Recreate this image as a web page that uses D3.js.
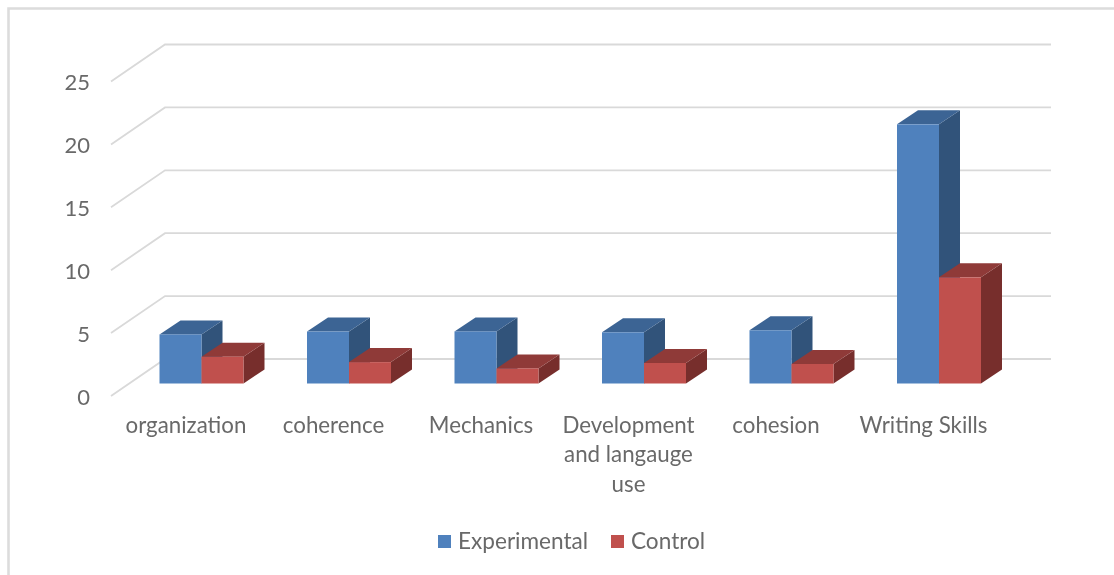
<!DOCTYPE html>
<html>
<head>
<meta charset="utf-8">
<script src="https://cdn.jsdelivr.net/npm/d3@7/dist/d3.min.js"></script>
<style>
html,body{margin:0;padding:0;background:#fff;overflow:hidden}
svg{display:block;filter:blur(0.45px)}
text{font-family:Lato,"Open Sans",sans-serif;fill:#696969}
</style>
</head>
<body>
<svg id="c" width="1114" height="575"></svg>
<script>
const categories = ["organization","coherence","Mechanics","Development and langauge use","cohesion","Writing Skills"];
const seriesNames = ["Experimental","Control"];
const experimental = [3.9,4.13,4.14,4.07,4.23,20.6];
const control = [2.13,1.7,1.2,1.63,1.55,8.44];
const yTicks = [0,5,10,15,20,25];
const colors = {
  Experimental:{front:"#4f81bd",top:"#3c6494",side:"#31537a"},
  Control:{front:"#c0504d",top:"#8f3a38",side:"#772e2c"}
};

const svg = d3.select("#c");
const depthX = 54, depthY = 37;       // wall depth of the 3D floor
const barDX = 21, barDY = 14;         // bar depth
const baseLift = 12.5;                // bars stand this far up the floor

const y = d3.scaleLinear().domain([0,25]).range([396,81.5]);
const x = d3.scaleBand().domain(categories).range([127.75,1012.75]).paddingInner(0).paddingOuter(0);
const inner = d3.scaleBand().domain(seriesNames).range([x.bandwidth()/2-42, x.bandwidth()/2+42]);

// chart frame
svg.append("path").attr("d","M8.5,575V8.5H1114").attr("fill","none").attr("stroke","#dcdcdc").attr("stroke-width",2.6);

// gridlines with floor diagonals
const gridG = svg.append("g");
yTicks.forEach(t=>{
  const py = y(t);
  gridG.append("path")
    .attr("d",d3.line()([[111,py],[111+depthX,py-depthY],[1051,py-depthY]]))
    .attr("fill","none").attr("stroke","#d9d9d9").attr("stroke-width",1.8);
});

// value axis
const axis = d3.axisLeft(y).tickValues(yTicks).tickSize(0).tickPadding(0);
const axG = svg.append("g").attr("transform","translate(90,0)").call(axis);
axG.select(".domain").remove();
axG.selectAll("text").style("font-size","22px").attr("fill",null).attr("dy","0.38em");
axG.attr("font-family",null).attr("font-size",null);

// bars
const barsG = svg.append("g");
categories.forEach((c,i)=>{
  [[seriesNames[0],experimental[i]],[seriesNames[1],control[i]]].forEach(([s,v])=>{
    const x0 = x(c)+inner(s), w = inner.bandwidth();
    const b = y(0)-baseLift, t = y(v)-baseLift;
    const col = colors[s];
    barsG.append("path").attr("fill",col.side)
      .attr("d",d3.line()([[x0+w,t],[x0+w+barDX,t-barDY],[x0+w+barDX,b-barDY],[x0+w,b]])+"Z");
    barsG.append("path").attr("fill",col.top)
      .attr("d",d3.line()([[x0,t],[x0+barDX,t-barDY],[x0+w+barDX,t-barDY],[x0+w,t]])+"Z");
    barsG.append("rect").attr("x",x0).attr("y",t).attr("width",w).attr("height",b-t).attr("fill",col.front);
  });
});

// category labels
const labelOffset = -15.5;
function wrapLabel(sel,maxW){
  sel.each(function(d){
    const el = d3.select(this), words = d.split(" ");
    let line = [];
    const px = +el.attr("x");
    let ts = el.append("tspan").attr("x",px).attr("dy",0);
    words.forEach(w=>{
      line.push(w); ts.text(line.join(" "));
      if(ts.node().getComputedTextLength()>maxW && line.length>1){
        line.pop(); ts.text(line.join(" "));
        line=[w];
        ts = el.append("tspan").attr("x",px).attr("dy",29.5).text(w);
      }
    });
  });
}
svg.append("g").selectAll("text").data(categories).join("text")
  .attr("x",d=>x(d)+x.bandwidth()/2+labelOffset)
  .attr("y",432.5)
  .attr("text-anchor","middle")
  .style("font-size","22.3px")
  .call(wrapLabel,145);

// legend
const legendX = {Experimental:438,Control:611};
const lg = svg.append("g");
seriesNames.forEach(s=>{
  lg.append("rect").attr("x",legendX[s]).attr("y",535).attr("width",13).attr("height",13).attr("fill",colors[s].front);
  lg.append("text").attr("x",legendX[s]+20).attr("y",549).style("font-size","22.6px").text(s);
});
</script>
</body>
</html>
